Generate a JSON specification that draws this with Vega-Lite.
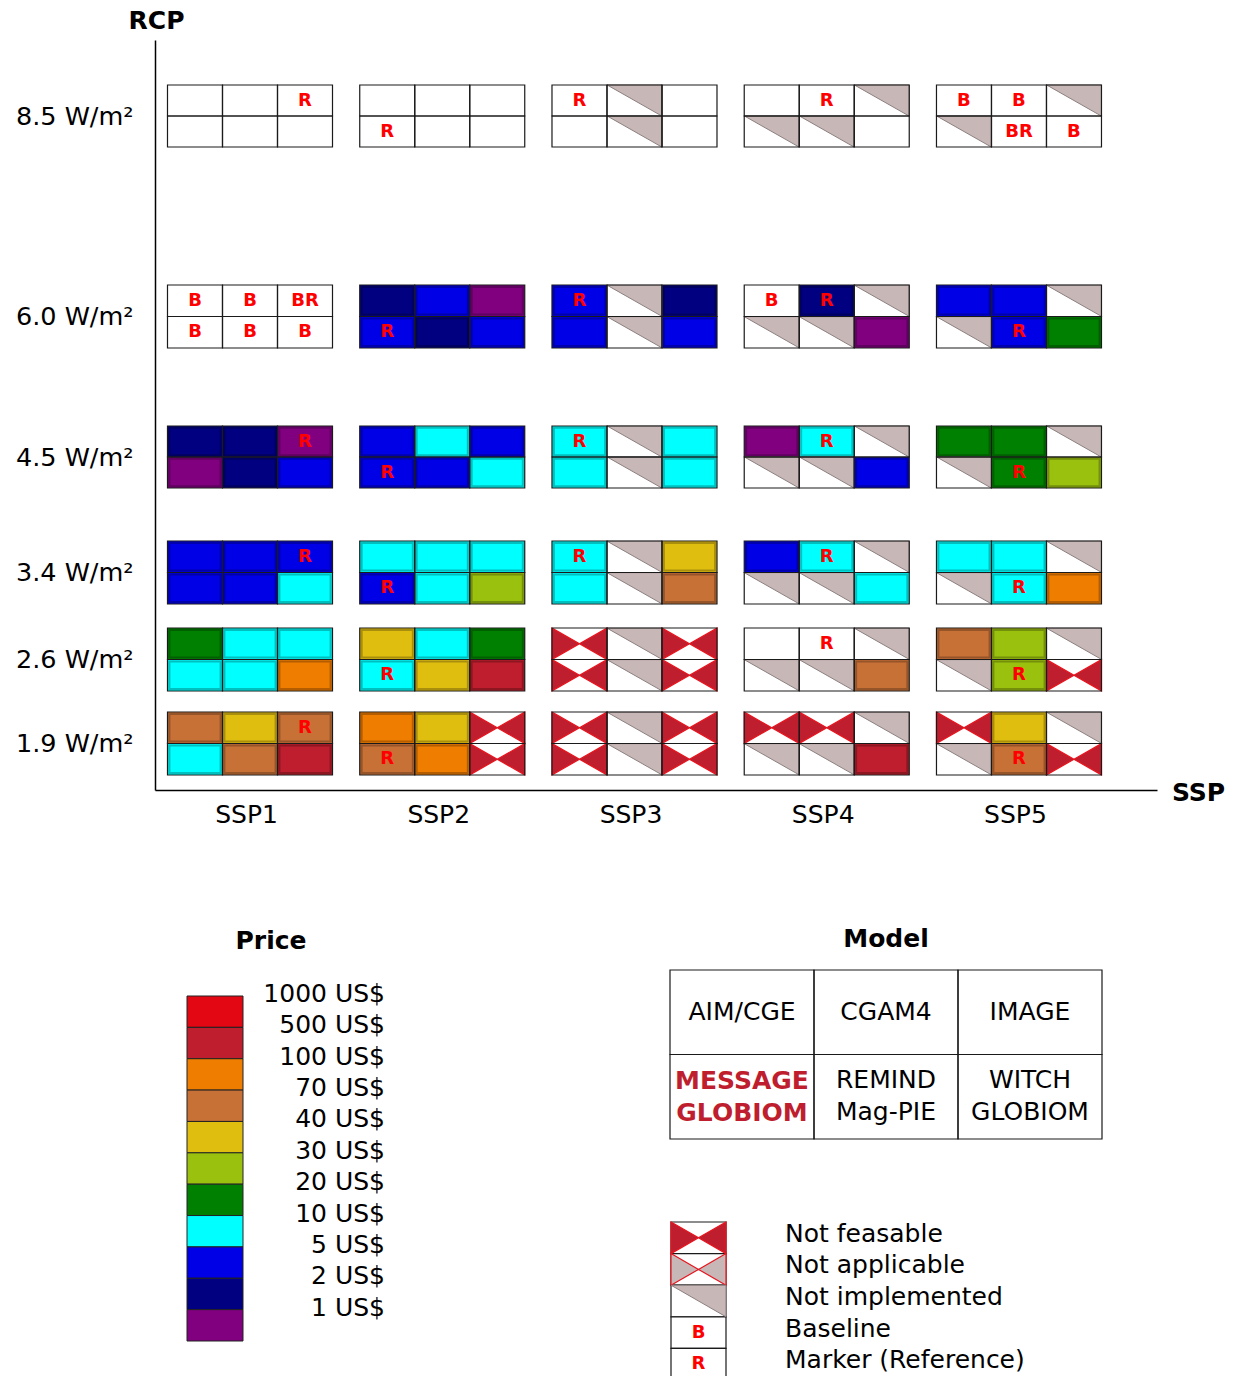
{
  "$schema": "https://vega.github.io/schema/vega-lite/v6.json",
  "width": 1236,
  "height": 1376,
  "autosize": {"type": "none"},
  "padding": 0,
  "background": "white",
  "config": {"view": {"stroke": null}, "font": "DejaVu Sans", "axis": {"labelFont": "DejaVu Sans", "titleFont": "DejaVu Sans"}},
  "datasets": {
    "priceLegend": [
      {"price": 1000, "label": "1000 US$"}, {"price": 500, "label": "500 US$"}, {"price": 100, "label": "100 US$"},
      {"price": 70, "label": "70 US$"}, {"price": 40, "label": "40 US$"}, {"price": 30, "label": "30 US$"},
      {"price": 20, "label": "20 US$"}, {"price": 10, "label": "10 US$"}, {"price": 5, "label": "5 US$"},
      {"price": 2, "label": "2 US$"}, {"price": 1, "label": "1 US$"}
    ],
    "models": [
      {"model": "AIM/CGE", "label": "AIM/CGE"}, {"model": "CGAM4", "label": "CGAM4"}, {"model": "IMAGE", "label": "IMAGE"},
      {"model": "MESSAGE-GLOBIOM", "label": "MESSAGE\nGLOBIOM"}, {"model": "REMIND-MAgPIE", "label": "REMIND\nMag-PIE"}, {"model": "WITCH-GLOBIOM", "label": "WITCH\nGLOBIOM"}
    ],
    "keys": [
      {"item": "Not feasable", "code": "NF"}, {"item": "Not applicable", "code": "NA"}, {"item": "Not implemented", "code": "NI"},
      {"item": "Baseline", "code": "B"}, {"item": "Marker (Reference)", "code": "R"}
    ],
    "cells": [
      {"ssp":"SSP1","rcp":8.5,"model":"AIM/CGE","status":"blank"},
      {"ssp":"SSP1","rcp":8.5,"model":"CGAM4","status":"blank"},
      {"ssp":"SSP1","rcp":8.5,"model":"IMAGE","status":"blank","role":"R"},
      {"ssp":"SSP1","rcp":8.5,"model":"MESSAGE-GLOBIOM","status":"blank"},
      {"ssp":"SSP1","rcp":8.5,"model":"REMIND-MAgPIE","status":"blank"},
      {"ssp":"SSP1","rcp":8.5,"model":"WITCH-GLOBIOM","status":"blank"},
      {"ssp":"SSP2","rcp":8.5,"model":"AIM/CGE","status":"blank"},
      {"ssp":"SSP2","rcp":8.5,"model":"CGAM4","status":"blank"},
      {"ssp":"SSP2","rcp":8.5,"model":"IMAGE","status":"blank"},
      {"ssp":"SSP2","rcp":8.5,"model":"MESSAGE-GLOBIOM","status":"blank","role":"R"},
      {"ssp":"SSP2","rcp":8.5,"model":"REMIND-MAgPIE","status":"blank"},
      {"ssp":"SSP2","rcp":8.5,"model":"WITCH-GLOBIOM","status":"blank"},
      {"ssp":"SSP3","rcp":8.5,"model":"AIM/CGE","status":"blank","role":"R"},
      {"ssp":"SSP3","rcp":8.5,"model":"CGAM4","status":"not implemented"},
      {"ssp":"SSP3","rcp":8.5,"model":"IMAGE","status":"blank"},
      {"ssp":"SSP3","rcp":8.5,"model":"MESSAGE-GLOBIOM","status":"blank"},
      {"ssp":"SSP3","rcp":8.5,"model":"REMIND-MAgPIE","status":"not implemented"},
      {"ssp":"SSP3","rcp":8.5,"model":"WITCH-GLOBIOM","status":"blank"},
      {"ssp":"SSP4","rcp":8.5,"model":"AIM/CGE","status":"blank"},
      {"ssp":"SSP4","rcp":8.5,"model":"CGAM4","status":"blank","role":"R"},
      {"ssp":"SSP4","rcp":8.5,"model":"IMAGE","status":"not implemented"},
      {"ssp":"SSP4","rcp":8.5,"model":"MESSAGE-GLOBIOM","status":"not implemented"},
      {"ssp":"SSP4","rcp":8.5,"model":"REMIND-MAgPIE","status":"not implemented"},
      {"ssp":"SSP4","rcp":8.5,"model":"WITCH-GLOBIOM","status":"blank"},
      {"ssp":"SSP5","rcp":8.5,"model":"AIM/CGE","status":"blank","role":"B"},
      {"ssp":"SSP5","rcp":8.5,"model":"CGAM4","status":"blank","role":"B"},
      {"ssp":"SSP5","rcp":8.5,"model":"IMAGE","status":"not implemented"},
      {"ssp":"SSP5","rcp":8.5,"model":"MESSAGE-GLOBIOM","status":"not implemented"},
      {"ssp":"SSP5","rcp":8.5,"model":"REMIND-MAgPIE","status":"blank","role":"BR"},
      {"ssp":"SSP5","rcp":8.5,"model":"WITCH-GLOBIOM","status":"blank","role":"B"},

      {"ssp":"SSP1","rcp":6.0,"model":"AIM/CGE","status":"blank","role":"B"},
      {"ssp":"SSP1","rcp":6.0,"model":"CGAM4","status":"blank","role":"B"},
      {"ssp":"SSP1","rcp":6.0,"model":"IMAGE","status":"blank","role":"BR"},
      {"ssp":"SSP1","rcp":6.0,"model":"MESSAGE-GLOBIOM","status":"blank","role":"B"},
      {"ssp":"SSP1","rcp":6.0,"model":"REMIND-MAgPIE","status":"blank","role":"B"},
      {"ssp":"SSP1","rcp":6.0,"model":"WITCH-GLOBIOM","status":"blank","role":"B"},
      {"ssp":"SSP2","rcp":6.0,"model":"AIM/CGE","status":"priced","price":2},
      {"ssp":"SSP2","rcp":6.0,"model":"CGAM4","status":"priced","price":5},
      {"ssp":"SSP2","rcp":6.0,"model":"IMAGE","status":"priced","price":1},
      {"ssp":"SSP2","rcp":6.0,"model":"MESSAGE-GLOBIOM","status":"priced","price":5,"role":"R"},
      {"ssp":"SSP2","rcp":6.0,"model":"REMIND-MAgPIE","status":"priced","price":2},
      {"ssp":"SSP2","rcp":6.0,"model":"WITCH-GLOBIOM","status":"priced","price":5},
      {"ssp":"SSP3","rcp":6.0,"model":"AIM/CGE","status":"priced","price":5,"role":"R"},
      {"ssp":"SSP3","rcp":6.0,"model":"CGAM4","status":"not implemented"},
      {"ssp":"SSP3","rcp":6.0,"model":"IMAGE","status":"priced","price":2},
      {"ssp":"SSP3","rcp":6.0,"model":"MESSAGE-GLOBIOM","status":"priced","price":5},
      {"ssp":"SSP3","rcp":6.0,"model":"REMIND-MAgPIE","status":"not implemented"},
      {"ssp":"SSP3","rcp":6.0,"model":"WITCH-GLOBIOM","status":"priced","price":5},
      {"ssp":"SSP4","rcp":6.0,"model":"AIM/CGE","status":"blank","role":"B"},
      {"ssp":"SSP4","rcp":6.0,"model":"CGAM4","status":"priced","price":2,"role":"R"},
      {"ssp":"SSP4","rcp":6.0,"model":"IMAGE","status":"not implemented"},
      {"ssp":"SSP4","rcp":6.0,"model":"MESSAGE-GLOBIOM","status":"not implemented"},
      {"ssp":"SSP4","rcp":6.0,"model":"REMIND-MAgPIE","status":"not implemented"},
      {"ssp":"SSP4","rcp":6.0,"model":"WITCH-GLOBIOM","status":"priced","price":1},
      {"ssp":"SSP5","rcp":6.0,"model":"AIM/CGE","status":"priced","price":5},
      {"ssp":"SSP5","rcp":6.0,"model":"CGAM4","status":"priced","price":5},
      {"ssp":"SSP5","rcp":6.0,"model":"IMAGE","status":"not implemented"},
      {"ssp":"SSP5","rcp":6.0,"model":"MESSAGE-GLOBIOM","status":"not implemented"},
      {"ssp":"SSP5","rcp":6.0,"model":"REMIND-MAgPIE","status":"priced","price":5,"role":"R"},
      {"ssp":"SSP5","rcp":6.0,"model":"WITCH-GLOBIOM","status":"priced","price":20},

      {"ssp":"SSP1","rcp":4.5,"model":"AIM/CGE","status":"priced","price":2},
      {"ssp":"SSP1","rcp":4.5,"model":"CGAM4","status":"priced","price":2},
      {"ssp":"SSP1","rcp":4.5,"model":"IMAGE","status":"priced","price":1,"role":"R"},
      {"ssp":"SSP1","rcp":4.5,"model":"MESSAGE-GLOBIOM","status":"priced","price":1},
      {"ssp":"SSP1","rcp":4.5,"model":"REMIND-MAgPIE","status":"priced","price":2},
      {"ssp":"SSP1","rcp":4.5,"model":"WITCH-GLOBIOM","status":"priced","price":5},
      {"ssp":"SSP2","rcp":4.5,"model":"AIM/CGE","status":"priced","price":5},
      {"ssp":"SSP2","rcp":4.5,"model":"CGAM4","status":"priced","price":10},
      {"ssp":"SSP2","rcp":4.5,"model":"IMAGE","status":"priced","price":5},
      {"ssp":"SSP2","rcp":4.5,"model":"MESSAGE-GLOBIOM","status":"priced","price":5,"role":"R"},
      {"ssp":"SSP2","rcp":4.5,"model":"REMIND-MAgPIE","status":"priced","price":5},
      {"ssp":"SSP2","rcp":4.5,"model":"WITCH-GLOBIOM","status":"priced","price":10},
      {"ssp":"SSP3","rcp":4.5,"model":"AIM/CGE","status":"priced","price":10,"role":"R"},
      {"ssp":"SSP3","rcp":4.5,"model":"CGAM4","status":"not implemented"},
      {"ssp":"SSP3","rcp":4.5,"model":"IMAGE","status":"priced","price":10},
      {"ssp":"SSP3","rcp":4.5,"model":"MESSAGE-GLOBIOM","status":"priced","price":10},
      {"ssp":"SSP3","rcp":4.5,"model":"REMIND-MAgPIE","status":"not implemented"},
      {"ssp":"SSP3","rcp":4.5,"model":"WITCH-GLOBIOM","status":"priced","price":10},
      {"ssp":"SSP4","rcp":4.5,"model":"AIM/CGE","status":"priced","price":1},
      {"ssp":"SSP4","rcp":4.5,"model":"CGAM4","status":"priced","price":10,"role":"R"},
      {"ssp":"SSP4","rcp":4.5,"model":"IMAGE","status":"not implemented"},
      {"ssp":"SSP4","rcp":4.5,"model":"MESSAGE-GLOBIOM","status":"not implemented"},
      {"ssp":"SSP4","rcp":4.5,"model":"REMIND-MAgPIE","status":"not implemented"},
      {"ssp":"SSP4","rcp":4.5,"model":"WITCH-GLOBIOM","status":"priced","price":5},
      {"ssp":"SSP5","rcp":4.5,"model":"AIM/CGE","status":"priced","price":20},
      {"ssp":"SSP5","rcp":4.5,"model":"CGAM4","status":"priced","price":20},
      {"ssp":"SSP5","rcp":4.5,"model":"IMAGE","status":"not implemented"},
      {"ssp":"SSP5","rcp":4.5,"model":"MESSAGE-GLOBIOM","status":"not implemented"},
      {"ssp":"SSP5","rcp":4.5,"model":"REMIND-MAgPIE","status":"priced","price":20,"role":"R"},
      {"ssp":"SSP5","rcp":4.5,"model":"WITCH-GLOBIOM","status":"priced","price":30},

      {"ssp":"SSP1","rcp":3.4,"model":"AIM/CGE","status":"priced","price":5},
      {"ssp":"SSP1","rcp":3.4,"model":"CGAM4","status":"priced","price":5},
      {"ssp":"SSP1","rcp":3.4,"model":"IMAGE","status":"priced","price":5,"role":"R"},
      {"ssp":"SSP1","rcp":3.4,"model":"MESSAGE-GLOBIOM","status":"priced","price":5},
      {"ssp":"SSP1","rcp":3.4,"model":"REMIND-MAgPIE","status":"priced","price":5},
      {"ssp":"SSP1","rcp":3.4,"model":"WITCH-GLOBIOM","status":"priced","price":10},
      {"ssp":"SSP2","rcp":3.4,"model":"AIM/CGE","status":"priced","price":10},
      {"ssp":"SSP2","rcp":3.4,"model":"CGAM4","status":"priced","price":10},
      {"ssp":"SSP2","rcp":3.4,"model":"IMAGE","status":"priced","price":10},
      {"ssp":"SSP2","rcp":3.4,"model":"MESSAGE-GLOBIOM","status":"priced","price":5,"role":"R"},
      {"ssp":"SSP2","rcp":3.4,"model":"REMIND-MAgPIE","status":"priced","price":10},
      {"ssp":"SSP2","rcp":3.4,"model":"WITCH-GLOBIOM","status":"priced","price":30},
      {"ssp":"SSP3","rcp":3.4,"model":"AIM/CGE","status":"priced","price":10,"role":"R"},
      {"ssp":"SSP3","rcp":3.4,"model":"CGAM4","status":"not implemented"},
      {"ssp":"SSP3","rcp":3.4,"model":"IMAGE","status":"priced","price":40},
      {"ssp":"SSP3","rcp":3.4,"model":"MESSAGE-GLOBIOM","status":"priced","price":10},
      {"ssp":"SSP3","rcp":3.4,"model":"REMIND-MAgPIE","status":"not implemented"},
      {"ssp":"SSP3","rcp":3.4,"model":"WITCH-GLOBIOM","status":"priced","price":70},
      {"ssp":"SSP4","rcp":3.4,"model":"AIM/CGE","status":"priced","price":5},
      {"ssp":"SSP4","rcp":3.4,"model":"CGAM4","status":"priced","price":10,"role":"R"},
      {"ssp":"SSP4","rcp":3.4,"model":"IMAGE","status":"not implemented"},
      {"ssp":"SSP4","rcp":3.4,"model":"MESSAGE-GLOBIOM","status":"not implemented"},
      {"ssp":"SSP4","rcp":3.4,"model":"REMIND-MAgPIE","status":"not implemented"},
      {"ssp":"SSP4","rcp":3.4,"model":"WITCH-GLOBIOM","status":"priced","price":10},
      {"ssp":"SSP5","rcp":3.4,"model":"AIM/CGE","status":"priced","price":10},
      {"ssp":"SSP5","rcp":3.4,"model":"CGAM4","status":"priced","price":10},
      {"ssp":"SSP5","rcp":3.4,"model":"IMAGE","status":"not implemented"},
      {"ssp":"SSP5","rcp":3.4,"model":"MESSAGE-GLOBIOM","status":"not implemented"},
      {"ssp":"SSP5","rcp":3.4,"model":"REMIND-MAgPIE","status":"priced","price":10,"role":"R"},
      {"ssp":"SSP5","rcp":3.4,"model":"WITCH-GLOBIOM","status":"priced","price":100},

      {"ssp":"SSP1","rcp":2.6,"model":"AIM/CGE","status":"priced","price":20},
      {"ssp":"SSP1","rcp":2.6,"model":"CGAM4","status":"priced","price":10},
      {"ssp":"SSP1","rcp":2.6,"model":"IMAGE","status":"priced","price":10},
      {"ssp":"SSP1","rcp":2.6,"model":"MESSAGE-GLOBIOM","status":"priced","price":10},
      {"ssp":"SSP1","rcp":2.6,"model":"REMIND-MAgPIE","status":"priced","price":10},
      {"ssp":"SSP1","rcp":2.6,"model":"WITCH-GLOBIOM","status":"priced","price":100},
      {"ssp":"SSP2","rcp":2.6,"model":"AIM/CGE","status":"priced","price":40},
      {"ssp":"SSP2","rcp":2.6,"model":"CGAM4","status":"priced","price":10},
      {"ssp":"SSP2","rcp":2.6,"model":"IMAGE","status":"priced","price":20},
      {"ssp":"SSP2","rcp":2.6,"model":"MESSAGE-GLOBIOM","status":"priced","price":10,"role":"R"},
      {"ssp":"SSP2","rcp":2.6,"model":"REMIND-MAgPIE","status":"priced","price":40},
      {"ssp":"SSP2","rcp":2.6,"model":"WITCH-GLOBIOM","status":"priced","price":500},
      {"ssp":"SSP3","rcp":2.6,"model":"AIM/CGE","status":"not feasible"},
      {"ssp":"SSP3","rcp":2.6,"model":"CGAM4","status":"not implemented"},
      {"ssp":"SSP3","rcp":2.6,"model":"IMAGE","status":"not feasible"},
      {"ssp":"SSP3","rcp":2.6,"model":"MESSAGE-GLOBIOM","status":"not feasible"},
      {"ssp":"SSP3","rcp":2.6,"model":"REMIND-MAgPIE","status":"not implemented"},
      {"ssp":"SSP3","rcp":2.6,"model":"WITCH-GLOBIOM","status":"not feasible"},
      {"ssp":"SSP4","rcp":2.6,"model":"AIM/CGE","status":"blank"},
      {"ssp":"SSP4","rcp":2.6,"model":"CGAM4","status":"blank","role":"R"},
      {"ssp":"SSP4","rcp":2.6,"model":"IMAGE","status":"not implemented"},
      {"ssp":"SSP4","rcp":2.6,"model":"MESSAGE-GLOBIOM","status":"not implemented"},
      {"ssp":"SSP4","rcp":2.6,"model":"REMIND-MAgPIE","status":"not implemented"},
      {"ssp":"SSP4","rcp":2.6,"model":"WITCH-GLOBIOM","status":"priced","price":70},
      {"ssp":"SSP5","rcp":2.6,"model":"AIM/CGE","status":"priced","price":70},
      {"ssp":"SSP5","rcp":2.6,"model":"CGAM4","status":"priced","price":30},
      {"ssp":"SSP5","rcp":2.6,"model":"IMAGE","status":"not implemented"},
      {"ssp":"SSP5","rcp":2.6,"model":"MESSAGE-GLOBIOM","status":"not implemented"},
      {"ssp":"SSP5","rcp":2.6,"model":"REMIND-MAgPIE","status":"priced","price":30,"role":"R"},
      {"ssp":"SSP5","rcp":2.6,"model":"WITCH-GLOBIOM","status":"not feasible"},

      {"ssp":"SSP1","rcp":1.9,"model":"AIM/CGE","status":"priced","price":70},
      {"ssp":"SSP1","rcp":1.9,"model":"CGAM4","status":"priced","price":40},
      {"ssp":"SSP1","rcp":1.9,"model":"IMAGE","status":"priced","price":70,"role":"R"},
      {"ssp":"SSP1","rcp":1.9,"model":"MESSAGE-GLOBIOM","status":"priced","price":10},
      {"ssp":"SSP1","rcp":1.9,"model":"REMIND-MAgPIE","status":"priced","price":70},
      {"ssp":"SSP1","rcp":1.9,"model":"WITCH-GLOBIOM","status":"priced","price":500},
      {"ssp":"SSP2","rcp":1.9,"model":"AIM/CGE","status":"priced","price":100},
      {"ssp":"SSP2","rcp":1.9,"model":"CGAM4","status":"priced","price":40},
      {"ssp":"SSP2","rcp":1.9,"model":"IMAGE","status":"not feasible"},
      {"ssp":"SSP2","rcp":1.9,"model":"MESSAGE-GLOBIOM","status":"priced","price":70,"role":"R"},
      {"ssp":"SSP2","rcp":1.9,"model":"REMIND-MAgPIE","status":"priced","price":100},
      {"ssp":"SSP2","rcp":1.9,"model":"WITCH-GLOBIOM","status":"not feasible"},
      {"ssp":"SSP3","rcp":1.9,"model":"AIM/CGE","status":"not feasible"},
      {"ssp":"SSP3","rcp":1.9,"model":"CGAM4","status":"not implemented"},
      {"ssp":"SSP3","rcp":1.9,"model":"IMAGE","status":"not feasible"},
      {"ssp":"SSP3","rcp":1.9,"model":"MESSAGE-GLOBIOM","status":"not feasible"},
      {"ssp":"SSP3","rcp":1.9,"model":"REMIND-MAgPIE","status":"not implemented"},
      {"ssp":"SSP3","rcp":1.9,"model":"WITCH-GLOBIOM","status":"not feasible"},
      {"ssp":"SSP4","rcp":1.9,"model":"AIM/CGE","status":"not feasible"},
      {"ssp":"SSP4","rcp":1.9,"model":"CGAM4","status":"not feasible"},
      {"ssp":"SSP4","rcp":1.9,"model":"IMAGE","status":"not implemented"},
      {"ssp":"SSP4","rcp":1.9,"model":"MESSAGE-GLOBIOM","status":"not implemented"},
      {"ssp":"SSP4","rcp":1.9,"model":"REMIND-MAgPIE","status":"not implemented"},
      {"ssp":"SSP4","rcp":1.9,"model":"WITCH-GLOBIOM","status":"priced","price":500},
      {"ssp":"SSP5","rcp":1.9,"model":"AIM/CGE","status":"not feasible"},
      {"ssp":"SSP5","rcp":1.9,"model":"CGAM4","status":"priced","price":40},
      {"ssp":"SSP5","rcp":1.9,"model":"IMAGE","status":"not implemented"},
      {"ssp":"SSP5","rcp":1.9,"model":"MESSAGE-GLOBIOM","status":"not implemented"},
      {"ssp":"SSP5","rcp":1.9,"model":"REMIND-MAgPIE","status":"priced","price":70,"role":"R"},
      {"ssp":"SSP5","rcp":1.9,"model":"WITCH-GLOBIOM","status":"not feasible"}
    ]
  },
  "data": {"name": "cells"},
  "transform": [
    {"calculate": "indexof(['AIM/CGE','CGAM4','IMAGE','MESSAGE-GLOBIOM','REMIND-MAgPIE','WITCH-GLOBIOM'], datum.model)", "as": "idx"},
    {"calculate": "toNumber(substring(datum.ssp, 3))", "as": "sspn"},
    {"calculate": "datum.idx % 3", "as": "col"},
    {"calculate": "floor(datum.idx / 3)", "as": "row"},
    {"calculate": "datum.sspn + (datum.col - 1) * 0.2861", "as": "xc"},
    {"calculate": "datum.xc - 0.14305", "as": "xl"},
    {"calculate": "datum.xc + 0.14305", "as": "xr"},
    {"calculate": "datum.rcp + 0.1 - datum.row * 0.1", "as": "yt"},
    {"calculate": "datum.rcp - datum.row * 0.1", "as": "yb"},
    {"calculate": "datum.rcp + 0.05 - datum.row * 0.1", "as": "yc"}
  ],
  "resolve": {"scale": {"x": "independent", "y": "independent"}},
  "layer": [
    {
      "mark": {"type": "rect", "fill": "white", "strokeWidth": 0},
      "encoding": {
        "x": {"field": "xl", "type": "quantitative",
              "scale": {"domain": [0.50585, 5.71794], "range": [155, 1157], "nice": false, "zero": false},
              "axis": {"orient": "bottom", "offset": -586, "values": [1, 2, 3, 4, 5], "labelExpr": "'SSP' + datum.value",
                       "ticks": false, "tickSize": 0, "grid": false, "domainColor": "#000", "domainWidth": 1.5,
                       "labelFontSize": 25, "labelColor": "#000", "labelPadding": 12, "labelOffset": -4, "labelFlush": false, "labelOverlap": false,
                       "title": "SSP", "titleFontSize": 25, "titleFontWeight": "bold", "titleColor": "#000",
                       "titleX": 1198, "titleY": 2, "titleAlign": "center", "titleBaseline": "middle", "titleAngle": 0}},
        "x2": {"field": "xr"},
        "y": {"field": "yt", "type": "quantitative",
              "scale": {"domain": [1.7, 1.8, 2.0, 2.5, 2.7, 3.3, 3.5, 4.4, 4.6, 5.9, 6.1, 8.4, 8.6, 9.0], "range": [790, 775, 712, 691, 628, 604, 541, 488, 426, 348, 285, 147, 85, 40], "nice": false, "zero": false},
              "axis": {"orient": "left", "offset": -155, "values": [1.9, 2.6, 3.4, 4.5, 6.0, 8.5], "labelExpr": "format(datum.value, '.1f') + ' W/m²'",
                       "ticks": false, "tickSize": 0, "grid": false, "domainColor": "#000", "domainWidth": 1.5,
                       "labelFontSize": 25.5, "labelColor": "#000", "labelPadding": 22, "labelOverlap": false, "labelFlush": false,
                       "title": "RCP", "titleFontSize": 25, "titleFontWeight": "bold", "titleColor": "#000", "titleAngle": 0,
                       "titleX": 1, "titleY": 20, "titleAlign": "center", "titleBaseline": "middle"}},
        "y2": {"field": "yb"}
      }
    },
    {
      "transform": [{"filter": "datum.status == 'priced'"}],
      "mark": {"type": "rect", "strokeWidth": 0},
      "encoding": {
        "x": {"field": "xl", "type": "quantitative", "scale": {"domain": [0.50585, 5.71794], "range": [155, 1157], "nice": false, "zero": false}, "axis": null},
        "x2": {"field": "xr"},
        "y": {"field": "yt", "type": "quantitative", "scale": {"domain": [1.7, 1.8, 2.0, 2.5, 2.7, 3.3, 3.5, 4.4, 4.6, 5.9, 6.1, 8.4, 8.6, 9.0], "range": [790, 775, 712, 691, 628, 604, 541, 488, 426, 348, 285, 147, 85, 40], "nice": false, "zero": false}, "axis": null},
        "y2": {"field": "yb"},
        "fill": {"field": "price", "type": "ordinal",
                 "scale": {"domain": [1000, 500, 100, 70, 40, 30, 20, 10, 5, 2, 1],
                           "range": ["#e30613", "#be1e2d", "#ef7d00", "#c87137", "#e0be10", "#9bc10f", "#008000", "#00ffff", "#0000e6", "#000080", "#800080"]},
                 "legend": null}
      }
    },
    {
      "transform": [{"filter": "datum.status == 'priced'"}],
      "mark": {"type": "point", "shape": "M-0.93,-0.5L0.93,-0.5L0.93,0.5L-0.93,0.5Z", "size": 3025, "filled": false, "stroke": "#000", "strokeOpacity": 0.25, "strokeWidth": 2, "opacity": 1},
      "encoding": {
        "x": {"field": "xc", "type": "quantitative", "scale": {"domain": [0.50585, 5.71794], "range": [155, 1157], "nice": false, "zero": false}, "axis": null},
        "y": {"field": "yc", "type": "quantitative", "scale": {"domain": [1.7, 1.8, 2.0, 2.5, 2.7, 3.3, 3.5, 4.4, 4.6, 5.9, 6.1, 8.4, 8.6, 9.0], "range": [790, 775, 712, 691, 628, 604, 541, 488, 426, 348, 285, 147, 85, 40], "nice": false, "zero": false}, "axis": null}
      }
    },
    {
      "transform": [{"filter": "datum.status == 'not implemented'"}],
      "mark": {"type": "point", "shape": "M-1,-0.568L1,-0.568L1,0.568Z", "size": 3025, "filled": true, "fill": "#c8b7b7", "stroke": "#8c8080", "strokeWidth": 1, "opacity": 1},
      "encoding": {
        "x": {"field": "xc", "type": "quantitative", "scale": {"domain": [0.50585, 5.71794], "range": [155, 1157], "nice": false, "zero": false}, "axis": null},
        "y": {"field": "yc", "type": "quantitative", "scale": {"domain": [1.7, 1.8, 2.0, 2.5, 2.7, 3.3, 3.5, 4.4, 4.6, 5.9, 6.1, 8.4, 8.6, 9.0], "range": [790, 775, 712, 691, 628, 604, 541, 488, 426, 348, 285, 147, 85, 40], "nice": false, "zero": false}, "axis": null}
      }
    },
    {
      "transform": [{"filter": "datum.status == 'not feasible'"}],
      "mark": {"type": "point", "shape": "M-1,-0.568L0,0L-1,0.568Z M1,-0.568L0,0L1,0.568Z", "size": 3025, "filled": true, "fill": "#be1e2d", "stroke": "#e8141e", "strokeWidth": 1.2, "opacity": 1},
      "encoding": {
        "x": {"field": "xc", "type": "quantitative", "scale": {"domain": [0.50585, 5.71794], "range": [155, 1157], "nice": false, "zero": false}, "axis": null},
        "y": {"field": "yc", "type": "quantitative", "scale": {"domain": [1.7, 1.8, 2.0, 2.5, 2.7, 3.3, 3.5, 4.4, 4.6, 5.9, 6.1, 8.4, 8.6, 9.0], "range": [790, 775, 712, 691, 628, 604, 541, 488, 426, 348, 285, 147, 85, 40], "nice": false, "zero": false}, "axis": null}
      }
    },
    {
      "mark": {"type": "rect", "filled": false, "stroke": "#1a1a1a", "strokeWidth": 1.2},
      "encoding": {
        "x": {"field": "xl", "type": "quantitative", "scale": {"domain": [0.50585, 5.71794], "range": [155, 1157], "nice": false, "zero": false}, "axis": null},
        "x2": {"field": "xr"},
        "y": {"field": "yt", "type": "quantitative", "scale": {"domain": [1.7, 1.8, 2.0, 2.5, 2.7, 3.3, 3.5, 4.4, 4.6, 5.9, 6.1, 8.4, 8.6, 9.0], "range": [790, 775, 712, 691, 628, 604, 541, 488, 426, 348, 285, 147, 85, 40], "nice": false, "zero": false}, "axis": null},
        "y2": {"field": "yb"}
      }
    },
    {
      "transform": [{"filter": "isValid(datum.role)"}],
      "mark": {"type": "text", "fontWeight": "bold", "fontSize": 18, "fill": "#ff0000", "align": "center", "baseline": "middle"},
      "encoding": {
        "x": {"field": "xc", "type": "quantitative", "scale": {"domain": [0.50585, 5.71794], "range": [155, 1157], "nice": false, "zero": false}, "axis": null},
        "y": {"field": "yc", "type": "quantitative", "scale": {"domain": [1.7, 1.8, 2.0, 2.5, 2.7, 3.3, 3.5, 4.4, 4.6, 5.9, 6.1, 8.4, 8.6, 9.0], "range": [790, 775, 712, 691, 628, 604, 541, 488, 426, 348, 285, 147, 85, 40], "nice": false, "zero": false}, "axis": null},
        "text": {"field": "role"}
      }
    },
    {
      "data": {"name": "priceLegend"},
      "mark": {"type": "rect", "stroke": "#222", "strokeWidth": 1},
      "encoding": {
        "x": {"datum": "swatch", "type": "nominal", "scale": {"type": "band", "domain": ["swatch"], "range": [187, 243], "paddingInner": 0, "paddingOuter": 0}, "axis": null},
        "y": {"field": "price", "type": "ordinal", "scale": {"type": "band", "domain": [1000, 500, 100, 70, 40, 30, 20, 10, 5, 2, 1], "range": [996, 1341], "paddingInner": 0, "paddingOuter": 0}, "axis": null},
        "fill": {"field": "price", "type": "ordinal",
                 "scale": {"domain": [1000, 500, 100, 70, 40, 30, 20, 10, 5, 2, 1],
                           "range": ["#e30613", "#be1e2d", "#ef7d00", "#c87137", "#e0be10", "#9bc10f", "#008000", "#00ffff", "#0000e6", "#000080", "#800080"]},
                 "legend": null}
      }
    },
    {
      "data": {"name": "priceLegend"},
      "mark": {"type": "text", "fontSize": 25, "fill": "#000", "align": "right", "baseline": "middle", "dy": -2},
      "encoding": {
        "x": {"datum": "US$", "type": "nominal", "scale": {"type": "band", "domain": ["US$"], "range": [243, 385], "paddingInner": 0, "paddingOuter": 0}, "bandPosition": 1, "axis": null},
        "y": {"field": "price", "type": "ordinal", "scale": {"type": "band", "domain": [1000, 500, 100, 70, 40, 30, 20, 10, 5, 2, 1], "range": [996, 1341], "paddingInner": 0, "paddingOuter": 0}, "bandPosition": 0, "axis": null},
        "text": {"field": "label"}
      }
    },
    {
      "data": {"values": [{"title": "Price"}]},
      "mark": {"type": "text", "fontSize": 25, "fontWeight": "bold", "fill": "#000", "align": "center", "baseline": "middle"},
      "encoding": {
        "x": {"field": "title", "type": "nominal", "scale": {"type": "band", "domain": ["Price"], "range": [187, 355]}, "axis": null},
        "y": {"field": "title", "type": "nominal", "scale": {"type": "band", "domain": ["Price"], "range": [926, 956]}, "axis": null},
        "text": {"field": "title"}
      }
    },
    {
      "data": {"name": "models"},
      "transform": [
        {"calculate": "indexof(['AIM/CGE','CGAM4','IMAGE','MESSAGE-GLOBIOM','REMIND-MAgPIE','WITCH-GLOBIOM'], datum.model)", "as": "idx"},
        {"calculate": "datum.idx % 3", "as": "col"},
        {"calculate": "floor(datum.idx / 3)", "as": "row"}
      ],
      "mark": {"type": "rect", "filled": false, "stroke": "#1a1a1a", "strokeWidth": 1.2},
      "encoding": {
        "x": {"field": "col", "type": "ordinal", "scale": {"type": "band", "domain": [0, 1, 2], "range": [670, 1102], "paddingInner": 0, "paddingOuter": 0}, "axis": null},
        "y": {"field": "row", "type": "ordinal", "scale": {"type": "band", "domain": [0, 1], "range": [970, 1139], "paddingInner": 0, "paddingOuter": 0}, "axis": null}
      }
    },
    {
      "data": {"name": "models"},
      "transform": [
        {"calculate": "indexof(['AIM/CGE','CGAM4','IMAGE','MESSAGE-GLOBIOM','REMIND-MAgPIE','WITCH-GLOBIOM'], datum.model)", "as": "idx"},
        {"calculate": "datum.idx % 3", "as": "col"},
        {"calculate": "floor(datum.idx / 3)", "as": "row"},
        {"filter": "datum.row == 0"}
      ],
      "mark": {"type": "text", "fontSize": 25, "fill": "#000", "align": "center", "baseline": "middle"},
      "encoding": {
        "x": {"field": "col", "type": "ordinal", "scale": {"type": "band", "domain": [0, 1, 2], "range": [670, 1102], "paddingInner": 0, "paddingOuter": 0}, "axis": null},
        "y": {"field": "row", "type": "ordinal", "scale": {"type": "band", "domain": [0, 1], "range": [970, 1139], "paddingInner": 0, "paddingOuter": 0}, "axis": null},
        "text": {"field": "label"}
      }
    },
    {
      "data": {"name": "models"},
      "transform": [
        {"calculate": "indexof(['AIM/CGE','CGAM4','IMAGE','MESSAGE-GLOBIOM','REMIND-MAgPIE','WITCH-GLOBIOM'], datum.model)", "as": "idx"},
        {"calculate": "datum.idx % 3", "as": "col"},
        {"calculate": "floor(datum.idx / 3)", "as": "row"},
        {"filter": "datum.row == 1 && datum.model != 'MESSAGE-GLOBIOM'"}
      ],
      "mark": {"type": "text", "fontSize": 25, "fill": "#000", "align": "center", "baseline": "middle", "lineBreak": "\n", "lineHeight": 32, "dy": -17},
      "encoding": {
        "x": {"field": "col", "type": "ordinal", "scale": {"type": "band", "domain": [0, 1, 2], "range": [670, 1102], "paddingInner": 0, "paddingOuter": 0}, "axis": null},
        "y": {"field": "row", "type": "ordinal", "scale": {"type": "band", "domain": [0, 1], "range": [970, 1139], "paddingInner": 0, "paddingOuter": 0}, "axis": null},
        "text": {"field": "label"}
      }
    },
    {
      "data": {"name": "models"},
      "transform": [
        {"calculate": "indexof(['AIM/CGE','CGAM4','IMAGE','MESSAGE-GLOBIOM','REMIND-MAgPIE','WITCH-GLOBIOM'], datum.model)", "as": "idx"},
        {"calculate": "datum.idx % 3", "as": "col"},
        {"calculate": "floor(datum.idx / 3)", "as": "row"},
        {"filter": "datum.model == 'MESSAGE-GLOBIOM'"}
      ],
      "mark": {"type": "text", "fontSize": 25, "fontWeight": "bold", "fill": "#be1e2d", "align": "center", "baseline": "middle", "lineBreak": "\n", "lineHeight": 32, "dy": -16},
      "encoding": {
        "x": {"field": "col", "type": "ordinal", "scale": {"type": "band", "domain": [0, 1, 2], "range": [670, 1102], "paddingInner": 0, "paddingOuter": 0}, "axis": null},
        "y": {"field": "row", "type": "ordinal", "scale": {"type": "band", "domain": [0, 1], "range": [970, 1139], "paddingInner": 0, "paddingOuter": 0}, "axis": null},
        "text": {"field": "label"}
      }
    },
    {
      "data": {"values": [{"title": "Model"}]},
      "mark": {"type": "text", "fontSize": 25, "fontWeight": "bold", "fill": "#000", "align": "center", "baseline": "middle"},
      "encoding": {
        "x": {"field": "title", "type": "nominal", "scale": {"type": "band", "domain": ["Model"], "range": [670, 1102]}, "axis": null},
        "y": {"field": "title", "type": "nominal", "scale": {"type": "band", "domain": ["Model"], "range": [924, 954]}, "axis": null},
        "text": {"field": "title"}
      }
    },
    {
      "data": {"name": "keys"},
      "mark": {"type": "rect", "fill": "white", "stroke": "#1a1a1a", "strokeWidth": 1.2},
      "encoding": {
        "x": {"datum": "key", "type": "nominal", "scale": {"type": "band", "domain": ["key"], "range": [671, 726], "paddingInner": 0, "paddingOuter": 0}, "axis": null},
        "y": {"field": "item", "type": "nominal", "scale": {"type": "band", "domain": ["Not feasable", "Not applicable", "Not implemented", "Baseline", "Marker (Reference)"], "range": [1222, 1380], "paddingInner": 0, "paddingOuter": 0}, "axis": null}
      }
    },
    {
      "data": {"name": "keys"},
      "transform": [{"filter": "datum.code == 'NF'"}],
      "mark": {"type": "point", "shape": "M-1,-0.5745L0,0L-1,0.5745Z M1,-0.5745L0,0L1,0.5745Z", "size": 3025, "filled": true, "fill": "#be1e2d", "stroke": "#e8141e", "strokeWidth": 1.2, "opacity": 1},
      "encoding": {
        "x": {"datum": "key", "type": "nominal", "scale": {"type": "band", "domain": ["key"], "range": [671, 726], "paddingInner": 0, "paddingOuter": 0}, "axis": null},
        "y": {"field": "item", "type": "nominal", "scale": {"type": "band", "domain": ["Not feasable", "Not applicable", "Not implemented", "Baseline", "Marker (Reference)"], "range": [1222, 1380], "paddingInner": 0, "paddingOuter": 0}, "axis": null}
      }
    },
    {
      "data": {"name": "keys"},
      "transform": [{"filter": "datum.code == 'NA'"}],
      "mark": {"type": "point", "shape": "M-1,-0.5745L0,0L-1,0.5745Z M1,-0.5745L0,0L1,0.5745Z", "size": 3025, "filled": true, "fill": "#c8b7b7", "stroke": "#e8141e", "strokeWidth": 1.2, "opacity": 1},
      "encoding": {
        "x": {"datum": "key", "type": "nominal", "scale": {"type": "band", "domain": ["key"], "range": [671, 726], "paddingInner": 0, "paddingOuter": 0}, "axis": null},
        "y": {"field": "item", "type": "nominal", "scale": {"type": "band", "domain": ["Not feasable", "Not applicable", "Not implemented", "Baseline", "Marker (Reference)"], "range": [1222, 1380], "paddingInner": 0, "paddingOuter": 0}, "axis": null}
      }
    },
    {
      "data": {"name": "keys"},
      "transform": [{"filter": "datum.code == 'NI'"}],
      "mark": {"type": "point", "shape": "M-1,-0.5745L1,-0.5745L1,0.5745Z", "size": 3025, "filled": true, "fill": "#c8b7b7", "stroke": "#8c8080", "strokeWidth": 1, "opacity": 1},
      "encoding": {
        "x": {"datum": "key", "type": "nominal", "scale": {"type": "band", "domain": ["key"], "range": [671, 726], "paddingInner": 0, "paddingOuter": 0}, "axis": null},
        "y": {"field": "item", "type": "nominal", "scale": {"type": "band", "domain": ["Not feasable", "Not applicable", "Not implemented", "Baseline", "Marker (Reference)"], "range": [1222, 1380], "paddingInner": 0, "paddingOuter": 0}, "axis": null}
      }
    },
    {
      "data": {"name": "keys"},
      "transform": [{"filter": "datum.code == 'B' || datum.code == 'R'"}],
      "mark": {"type": "text", "fontWeight": "bold", "fontSize": 18, "fill": "#ff0000", "align": "center", "baseline": "middle"},
      "encoding": {
        "x": {"datum": "key", "type": "nominal", "scale": {"type": "band", "domain": ["key"], "range": [671, 726], "paddingInner": 0, "paddingOuter": 0}, "axis": null},
        "y": {"field": "item", "type": "nominal", "scale": {"type": "band", "domain": ["Not feasable", "Not applicable", "Not implemented", "Baseline", "Marker (Reference)"], "range": [1222, 1380], "paddingInner": 0, "paddingOuter": 0}, "axis": null},
        "text": {"field": "code"}
      }
    },
    {
      "data": {"name": "keys"},
      "mark": {"type": "text", "fontSize": 25, "fill": "#000", "align": "left", "baseline": "middle", "dy": -4},
      "encoding": {
        "x": {"datum": "label", "type": "nominal", "scale": {"type": "band", "domain": ["label"], "range": [785, 1100], "paddingInner": 0, "paddingOuter": 0}, "bandPosition": 0, "axis": null},
        "y": {"field": "item", "type": "nominal", "scale": {"type": "band", "domain": ["Not feasable", "Not applicable", "Not implemented", "Baseline", "Marker (Reference)"], "range": [1222, 1380], "paddingInner": 0, "paddingOuter": 0}, "axis": null},
        "text": {"field": "item"}
      }
    }
  ]
}
